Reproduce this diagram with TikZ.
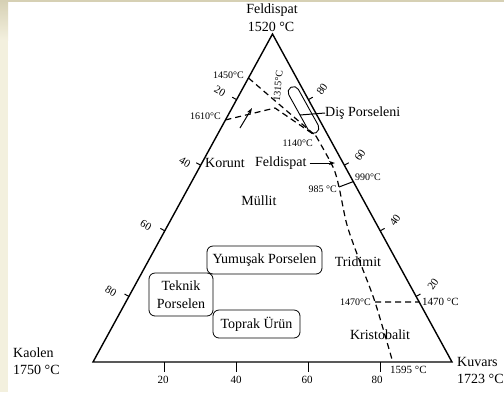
\documentclass[tikz,border=0pt]{standalone}
\usepackage{fontspec}
\setmainfont{Liberation Serif}
\usetikzlibrary{arrows.meta,calc}
\definecolor{cream}{RGB}{243,240,222}
\definecolor{tan}{RGB}{214,208,180}
\begin{document}
\begin{tikzpicture}[x=1pt,y=-1pt,
  edge/.style={line width=1.4pt, line join=miter},
  dline/.style={line width=1.2pt, dash pattern=on 6pt off 4pt},
  thin/.style={line width=1pt},
  big/.style={font=\fontsize{14}{15}\selectfont, inner sep=0pt},
  tmp/.style={font=\fontsize{10}{11}\selectfont, inner sep=0pt},
  tmpb/.style={font=\fontsize{11}{12}\selectfont, inner sep=0pt},
  ticklbl/.style={font=\fontsize{11}{12}\selectfont, inner sep=0pt},
  region/.style={draw, line width=0.8pt, rounded corners=6pt,
    font=\fontsize{14}{18}\selectfont, inner sep=0pt, align=center},
]
\useasboundingbox (0,0) rectangle (504,392);
\fill[white] (0,0) rectangle (504,392);
\fill[cream] (0,0) rectangle (8,392);
\shade[top color=tan, bottom color=cream] (0,0) rectangle (8,40);
\fill[tan] (0,0) rectangle (504,1.5);

% triangle
\coordinate (A) at (272.5,34);
\coordinate (K) at (93,362);
\coordinate (Q) at (452,362);
\draw[edge] (A) -- (K) -- (Q) -- cycle;

% ticks
\foreach \t in {0.2,0.4,0.6,0.8}{
  \draw[thin] ($(K)!\t!(Q)$) -- ++(0,10);
  \draw[thin] ($(A)!\t!(K)$) -- ++(-4.4,-2.4);
  \draw[thin] ($(A)!\t!(Q)$) -- ++(4.4,-2.4);
}
\node[ticklbl] (b20) at (163,380) {20};
\node[ticklbl] (b40) at (236,380) {40};
\node[ticklbl] (b60) at (307,380) {60};
\node[ticklbl] (b80) at (377,380) {80};
\node[ticklbl, rotate=-30] (l20) at (220,91) {20};
\node[ticklbl, rotate=-30] (l40) at (185,162) {40};
\node[ticklbl, rotate=-30] (l60) at (146,225) {60};
\node[ticklbl, rotate=-30] (l80) at (111,291) {80};
\node[ticklbl, rotate=55] (r80) at (322,89) {80};
\node[ticklbl, rotate=55] (r60) at (360,155) {60};
\node[ticklbl, rotate=55] (r40) at (395,220) {40};
\node[ticklbl, rotate=55] (r20) at (433,284) {20};

% corner labels
\node[big] (feld) at (272,10) {Feldispat};
\node[big] (feldT) at (271,27) {1520 °C};
\node[big, anchor=west] (kaolen) at (13,353) {Kaolen};
\node[big, anchor=west] (kaolenT) at (13,370) {1750 °C};
\node[big, anchor=west] (kuvars) at (457,362) {Kuvars};
\node[big, anchor=west] (kuvarsT) at (457,379) {1723 °C};

% key points
\coordinate (p1450) at ($(A)!0.134!(K)$);
\coordinate (p1610) at ($(A)!0.262!(K)$);
\coordinate (p1315) at (275,108);
\coordinate (p1140) at (316,136);
\coordinate (p985) at (339,187);
\coordinate (p990) at ($(A)!0.45!(Q)$);
\coordinate (p1470L) at (375,302);
\coordinate (p1470R) at ($(A)!0.817!(Q)$);
\coordinate (p1595) at ($(K)!0.835!(Q)$);

% dashed boundaries
\draw[dline] (p1450) -- (p1140);
\draw[dline] (p1610) -- (p1315) -- (p1140);
\draw[dline] plot[smooth, tension=0.5] coordinates
  {(p1140) (333,167) (p985) (347,225) (360,262) (p1470L) (p1595)};
\draw[dline] (p1470L) -- (p1470R);
\draw[thin] (p985) -- (p990);

% arrow near 1610
\coordinate (arrT) at (240,128);
\coordinate (arrH) at (252,108);
\draw[thin, -{Stealth[length=6pt,width=4pt]}] (arrT) -- (arrH);

% capsule (dental porcelain)
\node[draw, line width=0.9pt, rotate=-61, minimum width=52pt, minimum height=11pt,
  rounded corners=5.5pt, inner sep=0pt] (caps) at (303.5,110) {};
\node[big, anchor=west] (dis) at (325,113) {Diş Porseleni};
\coordinate (disL) at (300,115);
\draw[thin] (disL) -- (dis.west);

% temperature labels
\node[tmp, anchor=east] (t1450) at (244,75) {1450°C};
\node[tmp, anchor=east] (t1610) at (221,116) {1610°C};
\node[tmp, rotate=85] (t1315) at (278,86) {1315°C};
\node[tmp, anchor=east] (t1140) at (313,143) {1140°C};
\node[tmp, anchor=east] (t985) at (337,189) {985 °C};
\node[tmp, anchor=west] (t990) at (355,177) {990°C};
\node[tmp, anchor=east] (t1470L) at (371,302) {1470°C};
\node[tmpb, anchor=west] (t1470R) at (422,302) {1470 °C};
\node[tmpb, anchor=west] (t1595) at (390,370) {1595 °C};

% phase labels
\node[big, anchor=west] (korunt) at (205,163) {Korunt};
\node[big, anchor=west] (feldlbl) at (255,163) {Feldispat};
\coordinate (feldtip) at (335,163);
\draw[thin, -{Stealth[length=6pt,width=4pt]}] (feldlbl.east) ++(3,0) -- (feldtip);
\node[big] (mullit) at (259,201) {Müllit};
\node[big] (tridimit) at (358,262) {Tridimit};
\node[big] (kristo) at (380,335) {Kristobalit};

% regions
\node[region, minimum width=115pt, minimum height=28pt] (yum) at (264.5,260) {Yumuşak Porselen};
\node[region, minimum width=64pt, minimum height=43pt] (tek) at (181,294.5) {Teknik\\Porselen};
\node[region, minimum width=87pt, minimum height=28pt] (top) at (256.5,324) {Toprak Ürün};
\end{tikzpicture}
\end{document}
